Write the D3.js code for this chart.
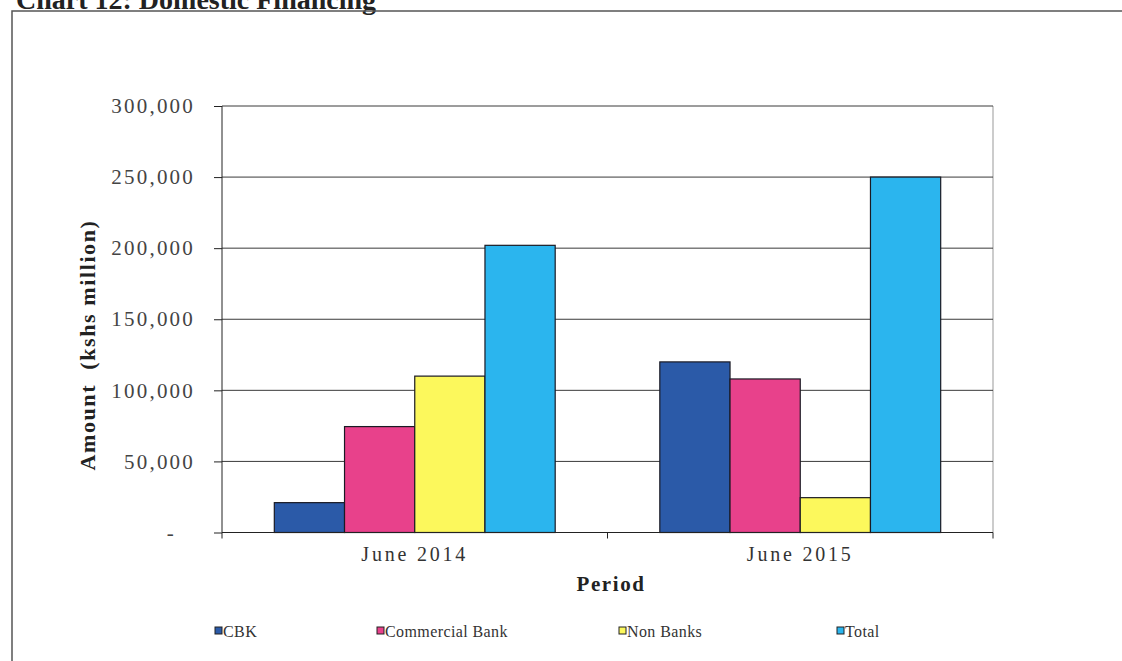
<!DOCTYPE html>
<html>
<head>
<meta charset="utf-8">
<script src="https://cdn.jsdelivr.net/npm/d3@7"></script>
<style>
  html, body { margin: 0; padding: 0; background: #fff; }
  svg { display: block; }
  text { font-family: "Liberation Serif", "Times New Roman", serif; }
</style>
</head>
<body>
<svg id="chart" width="1122" height="661"></svg>
<script>
// Domestic financing by source (Kshs million)
const periods = ["June 2014", "June 2015"];
const seriesNames = ["CBK", "Commercial Bank", "Non Banks", "Total"];
const cbk = [21000, 120000];
const commercialBank = [74500, 108000];
const nonBanks = [110000, 24500];
const total = [202000, 250000];
const yTicks = [0, 50000, 100000, 150000, 200000, 250000, 300000];

const seriesValues = [cbk, commercialBank, nonBanks, total];
const colors = ["#2b5aa8", "#e8418b", "#fcf85c", "#2bb5ee"];

const svg = d3.select("#chart");

// Title, partly clipped by the top edge of the page
svg.append("text")
  .attr("x", 16).attr("y", 9)
  .attr("font-size", 28).attr("font-weight", "bold")
  .attr("fill", "#222")
  .text("Chart 12: Domestic Financing");

// Outer frame
svg.append("path")
  .attr("d", "M12,670 L12,11 L1130,11")
  .attr("fill", "none").attr("stroke", "#555").attr("stroke-width", 1.5);

const plot = { left: 222, right: 993, top: 106, bottom: 532.5 };

const y = d3.scaleLinear().domain([0, 300000]).range([plot.bottom, plot.top]);
const x0 = d3.scaleBand().domain(periods).range([plot.left, plot.right]).padding(0);
const x1 = d3.scaleBand().domain(seriesNames).range([0, x0.bandwidth()])
  .paddingInner(0).paddingOuter(0.745);

// Plot area right border
svg.append("line")
  .attr("x1", plot.right).attr("x2", plot.right)
  .attr("y1", plot.top).attr("y2", plot.bottom)
  .attr("stroke", "#999").attr("stroke-width", 1);

// Horizontal gridlines
svg.append("g")
  .selectAll("line")
  .data(yTicks.filter(d => d > 0))
  .join("line")
  .attr("x1", plot.left).attr("x2", plot.right)
  .attr("y1", d => y(d)).attr("y2", d => y(d))
  .attr("stroke", "#3a3a3a").attr("stroke-width", 1);

// Bars
const groups = svg.append("g")
  .selectAll("g")
  .data(periods)
  .join("g")
  .attr("transform", d => `translate(${x0(d)},0)`);

groups.selectAll("rect")
  .data((p, i) => seriesNames.map((s, k) => ({ s, v: seriesValues[k][i], k })))
  .join("rect")
  .attr("x", d => x1(d.s))
  .attr("y", d => y(d.v))
  .attr("width", x1.bandwidth())
  .attr("height", d => y(0) - y(d.v))
  .attr("fill", d => colors[d.k])
  .attr("stroke", "#1a1a24").attr("stroke-width", 1.2);

// Y axis
const yAxis = d3.axisLeft(y)
  .tickValues(yTicks)
  .tickSize(8)
  .tickPadding(19)
  .tickFormat(d => d === 0 ? "-" : d3.format(",")(d));

const gy = svg.append("g")
  .attr("transform", `translate(${plot.left},0)`)
  .call(yAxis);
gy.select(".domain").attr("stroke", "#222").attr("d", `M0,${plot.top}V${plot.bottom}`);
gy.selectAll(".tick line").attr("stroke", "#222");
gy.selectAll(".tick text")
  .attr("font-family", "Liberation Serif, Times New Roman, serif")
  .attr("font-size", 21)
  .attr("letter-spacing", "2.2px")
  .attr("fill", "#444")
  .attr("dx", d => d === 0 ? -19 : 0);

// X axis
const xAxis = d3.axisBottom(x0).tickSize(0).tickPadding(14);
const gx = svg.append("g")
  .attr("transform", `translate(0,${plot.bottom})`)
  .call(xAxis);
gx.select(".domain").attr("stroke", "#222").attr("d", `M${plot.left},0H${plot.right}`);
gx.selectAll(".tick text")
  .attr("font-family", "Liberation Serif, Times New Roman, serif")
  .attr("font-size", 20)
  .attr("letter-spacing", "2.8px")
  .attr("fill", "#333");

// Category boundary ticks
svg.append("g")
  .selectAll("line")
  .data([plot.left, x0(periods[1]), plot.right])
  .join("line")
  .attr("x1", d => d).attr("x2", d => d)
  .attr("y1", plot.bottom).attr("y2", plot.bottom + 6)
  .attr("stroke", "#222");

// Axis titles
svg.append("text")
  .attr("x", 611).attr("y", 591)
  .attr("text-anchor", "middle")
  .attr("font-size", 21).attr("font-weight", "bold")
  .attr("letter-spacing", "1.6px")
  .attr("fill", "#222")
  .text("Period");

svg.append("text")
  .attr("transform", "translate(95,345) rotate(-90)")
  .attr("text-anchor", "middle")
  .attr("font-size", 22).attr("font-weight", "bold")
  .attr("letter-spacing", "1.6px")
  .attr("fill", "#222")
  .style("white-space", "pre")
  .text("Amount  (kshs million)");

// Legend
const legendX = [215, 377, 619, 837];
const legend = svg.append("g")
  .selectAll("g")
  .data(seriesNames)
  .join("g")
  .attr("transform", (d, i) => `translate(${legendX[i]},632)`);

legend.append("rect")
  .attr("x", 0).attr("y", -5)
  .attr("width", 7).attr("height", 7)
  .attr("fill", (d, i) => colors[i])
  .attr("stroke", "#222").attr("stroke-width", 1);

legend.append("text")
  .attr("x", 8).attr("y", 5)
  .attr("font-size", 16)
  .attr("letter-spacing", "0.4px")
  .attr("fill", "#333")
  .text(d => d);
</script>
</body>
</html>
